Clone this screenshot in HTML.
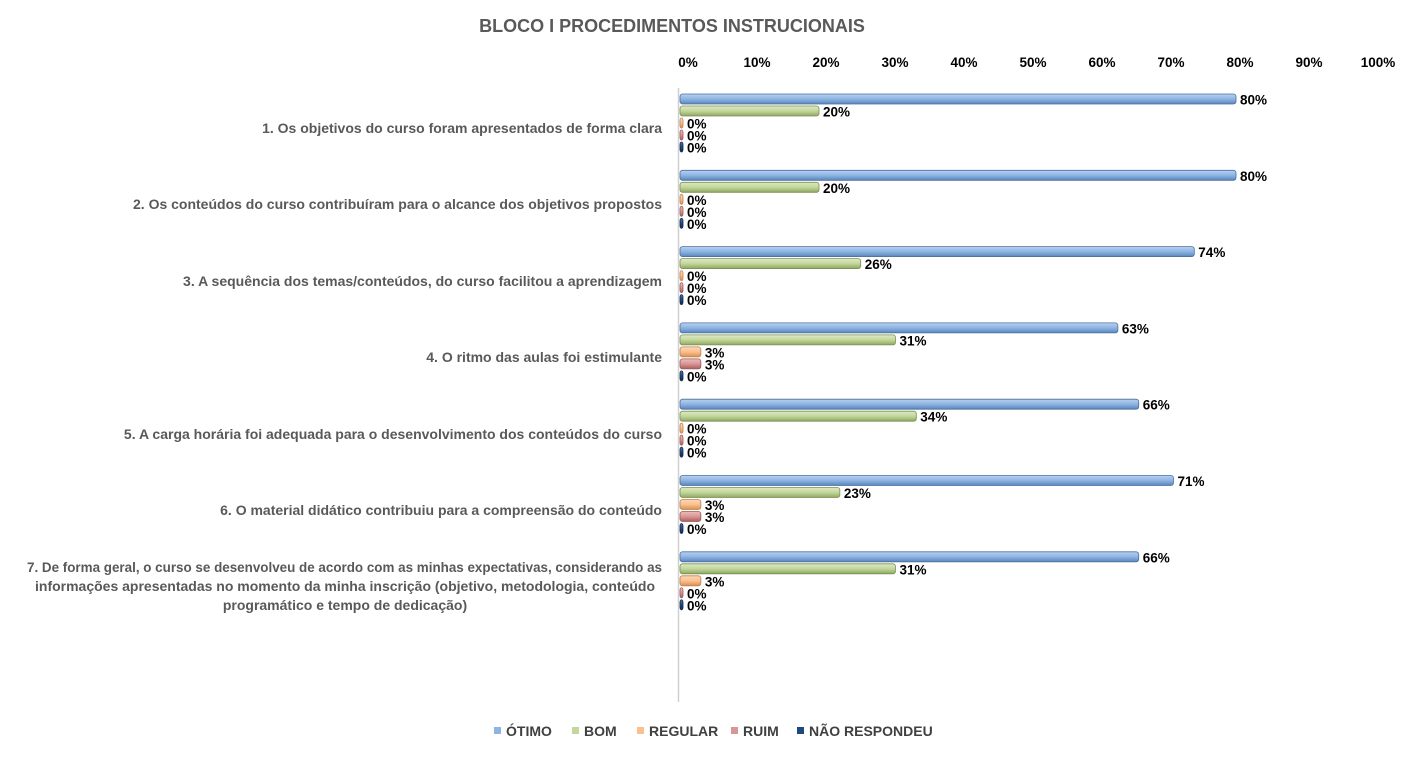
<!DOCTYPE html>
<html><head><meta charset="utf-8"><style>
body{margin:0;background:#fff}
text{font-family:"Liberation Sans",Arial,sans-serif}
</style></head><body>
<svg width="1416" height="753" xmlns="http://www.w3.org/2000/svg">
<defs>
<linearGradient id="gb" x1="0" y1="0" x2="0" y2="1"><stop offset="0" stop-color="#b9d1f0"/><stop offset="0.5" stop-color="#8db4e2"/><stop offset="1" stop-color="#5a86bd"/></linearGradient>
<linearGradient id="gg" x1="0" y1="0" x2="0" y2="1"><stop offset="0" stop-color="#dfeac4"/><stop offset="0.5" stop-color="#c3d69b"/><stop offset="1" stop-color="#8fa862"/></linearGradient>
<linearGradient id="go" x1="0" y1="0" x2="0" y2="1"><stop offset="0" stop-color="#fcd8b8"/><stop offset="0.5" stop-color="#fac090"/><stop offset="1" stop-color="#d9904f"/></linearGradient>
<linearGradient id="gr" x1="0" y1="0" x2="0" y2="1"><stop offset="0" stop-color="#ecbcbb"/><stop offset="0.5" stop-color="#d99694"/><stop offset="1" stop-color="#a85e5c"/></linearGradient>
<linearGradient id="gn" x1="0" y1="0" x2="0" y2="1"><stop offset="0" stop-color="#4f74a8"/><stop offset="0.5" stop-color="#1f497d"/><stop offset="1" stop-color="#10284a"/></linearGradient>
</defs>
<text x="672" y="32" text-anchor="middle" font-size="18" font-weight="bold" fill="#595959">BLOCO I PROCEDIMENTOS INSTRUCIONAIS</text>
<g font-size="13.5" font-weight="bold" fill="#000" text-anchor="middle">
<text x="688" y="67">0%</text><text x="757" y="67">10%</text><text x="826" y="67">20%</text><text x="895" y="67">30%</text><text x="964" y="67">40%</text><text x="1033" y="67">50%</text><text x="1102" y="67">60%</text><text x="1171" y="67">70%</text><text x="1240" y="67">80%</text><text x="1309" y="67">90%</text><text x="1378" y="67">100%</text>
</g>
<line x1="678.5" y1="88" x2="678.5" y2="702" stroke="#d0d0d0" stroke-width="1.5"/>
<g id="bars"></g>
<g font-size="14" font-weight="bold" fill="#595959" text-anchor="end">
<text x="662" y="133">1. Os objetivos do curso foram apresentados de forma clara</text>
<text x="662" y="209">2. Os conteúdos do curso contribuíram para o alcance dos objetivos propostos</text>
<text x="662" y="286">3. A sequência dos temas/conteúdos, do curso facilitou a aprendizagem</text>
<text x="662" y="362">4. O ritmo das aulas foi estimulante</text>
<text x="662" y="439">5. A carga horária foi adequada para o desenvolvimento dos conteúdos do curso</text>
<text x="662" y="515">6. O material didático contribuiu para a compreensão do conteúdo</text>
</g>
<g font-size="14" font-weight="bold" fill="#595959">
<text x="27" y="572" textLength="635" lengthAdjust="spacingAndGlyphs">7. De forma geral, o curso se desenvolveu de acordo com as minhas expectativas, considerando as</text>
<text x="345" y="591" text-anchor="middle">informações apresentadas no momento da minha inscrição (objetivo, metodologia, conteúdo</text>
<text x="345" y="610" text-anchor="middle">programático e tempo de dedicação)</text>
</g>
<g font-size="14" font-weight="bold" fill="#404040">
<rect x="494" y="727" width="7" height="7" fill="#8db4e2"/><text x="506" y="736">ÓTIMO</text>
<rect x="572" y="727" width="7" height="7" fill="#c3d69b"/><text x="584" y="736">BOM</text>
<rect x="637" y="727" width="7" height="7" fill="#fac090"/><text x="649" y="736">REGULAR</text>
<rect x="731" y="727" width="7" height="7" fill="#d99694"/><text x="743" y="736">RUIM</text>
<rect x="797" y="727" width="7" height="7" fill="#1f497d"/><text x="809" y="736">NÃO RESPONDEU</text>
</g>
</svg>
<script>
var d=[[80,20,0,0,0],[80,20,0,0,0],[74,26,0,0,0],[63,31,3,3,0],[66,34,0,0,0],[71,23,3,3,0],[66,31,3,0,0]];
var f=["url(#gb)","url(#gg)","url(#go)","url(#gr)","url(#gn)"];
var st=["#4a6f9e","#7a8f50","#c08050","#9a5a58","#0f2a4a"];
var s="";
for(var i=0;i<7;i++){var y0=94+i*76.3;for(var j=0;j<5;j++){var y=y0+j*12,v=d[i][j],w=Math.max(v*6.95,3),x=680;
s+='<rect x="'+x+'" y="'+y+'" width="'+w+'" height="10" rx="2.5" fill="'+f[j]+'" stroke="'+st[j]+'" stroke-width="0.8"/>';
s+='<text x="'+(x+w+4)+'" y="'+(y+10.5)+'" font-size="13.5" font-weight="bold" fill="#000">'+v+'%</text>';}}
document.getElementById("bars").innerHTML=s;
</script>
</body></html>
